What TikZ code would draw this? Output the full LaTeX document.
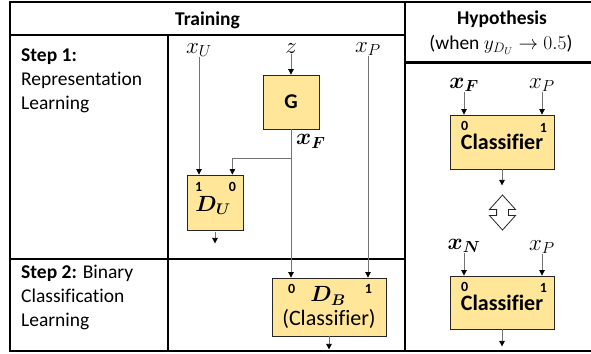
\RequirePackage{fix-cm}
\documentclass[tikz,border=0pt]{standalone}
\usepackage{amsmath,bm}
\usepackage{fontspec}
\setmainfont{Carlito}[Ligatures=CommonOff]
\usetikzlibrary{arrows.meta, positioning, shapes.arrows}
\definecolor{boxgold}{RGB}{255,230,153}
\definecolor{wiregray}{RGB}{115,115,115}
\tikzstyle{rule} = [line width=2.6pt, draw=black]
\tikzstyle{netbox} = [rectangle, fill=boxgold, draw=black!85, line width=0.8pt,
inner sep=0pt, align=center]
\tikzstyle{arrow} = [-{Triangle[length=5.5pt,width=5.5pt,color=black]},
line width=0.7pt, draw=wiregray]
\tikzstyle{heading} = [font=\fontsize{19.5}{24}\selectfont\bfseries, inner sep=0pt]
\tikzstyle{steptext} = [font=\fontsize{19.5}{24}\selectfont, align=left,
inner sep=0pt, anchor=north west]
\tikzstyle{port} = [font=\fontsize{14}{14}\selectfont\bfseries, inner sep=0pt]
\tikzstyle{sym} = [font=\fontsize{23}{23}\selectfont, inner sep=0pt]
\tikzstyle{boxtext} = [font=\fontsize{22}{24}\selectfont]

\begin{document}
\begin{tikzpicture}[x=1pt, y=-1pt]
    \useasboundingbox (0,0) rectangle (591,353);
    % table
    \draw[rule] (591,2) -- (10,2) -- (10,351) -- (591,351);
    \draw[rule] (405,2) -- (405,351);
    \draw[rule] (10,35) -- (405,35);
    \draw[rule] (405,62.5) -- (591,62.5);
    \draw[rule] (168,35) -- (168,351);
    \draw[rule] (10,259) -- (405,259);

    \node (train) [heading, anchor=base] at (207.5,25.5) {Training};
    \node (hyp) [heading, anchor=base] at (502,25) {Hypothesis};
    \node (hypcond) [font=\fontsize{19.5}{24}\selectfont, inner sep=0pt, anchor=base]
        at (501,50) {(when $y_{D_U}\rightarrow 0.5$)};

    \node (step1) [steptext] at (21,49) {\textbf{Step 1:}\\Representation\\Learning};
    \node (step2) [steptext] at (21,265) {\textbf{Step 2:} Binary\\Classification\\Learning};

    % training networks
    \node (gen) [netbox, minimum width=56pt, minimum height=54pt,
        font=\fontsize{21}{21}\selectfont\bfseries] at (291,102) {G};
    \node (du) [netbox, minimum width=56pt, minimum height=55pt] at (215,202.5) {};
    \node (db) [netbox, minimum width=114pt, minimum height=58pt] at (329,307) {};
    \node (dulab) [sym, font=\fontsize{22}{22}\selectfont] at ([shift={(-2,3)}]du.center) {$\bm{D_U}$};
    \node (du1) [port] at ([shift={(12,12)}]du.north west) {1};
    \node (du0) [port] at ([shift={(-11,12)}]du.north east) {0};
    \node (dblab) [sym, font=\fontsize{22}{22}\selectfont] at ([shift={(-1,-11)}]db.center) {$\bm{D_B}$};
    \node (dbcls) [boxtext, inner sep=0pt] at ([shift={(0,12)}]db.center) {(Classifier)};
    \node (db0) [port] at ([shift={(20,11)}]db.north west) {0};
    \node (db1) [port] at ([shift={(-18,11)}]db.north east) {1};

    \node (xu) [sym] at (199,50) {$x_U$};
    \node (zin) [sym] at (291,49) {$z$};
    \node (xp) [sym] at (368,49) {$x_P$};
    \node (xf) [sym, below right=5pt and 5pt of gen.south] {$\bm{x_F}$};
    \coordinate (split) at (gen.south |- 0,158);
    \coordinate (duout) at ([yshift=-13pt]du.south);
    \coordinate (dbout) at ([yshift=-13pt]db.south);

    \draw[arrow] (zin) -- (gen);
    \draw[arrow] (xu) -- (xu |- du.north);
    \draw[arrow] (xp) -- (xp |- db.north);
    \draw[arrow] (gen.south) -- (gen.south |- db.north);
    \draw[arrow] (split) -| (du0 |- du.north);
    \draw[arrow] ([yshift=-2pt]du.south) -- (duout);
    \draw[arrow] (db.south) -- (dbout);

    % hypothesis
    \node (clsa) [netbox, boxtext, font=\fontsize{22}{24}\selectfont\bfseries,
        minimum width=104pt, minimum height=54pt] at (502,142) {Classifier};
    \node (clsb) [netbox, boxtext, font=\fontsize{22}{24}\selectfont\bfseries,
        minimum width=104pt, minimum height=53pt] at (502,302.5) {Classifier};
    \node (clsa0) [port] at ([shift={(15,11)}]clsa.north west) {0};
    \node (clsa1) [port] at ([shift={(-11,13)}]clsa.north east) {1};
    \node (clsb0) [port] at ([shift={(15,11)}]clsb.north west) {0};
    \node (clsb1) [port] at ([shift={(-11,12)}]clsb.north east) {1};

    \node (hxf) [sym] at (464,85) {$\bm{x_F}$};
    \node (hxp) [sym] at (542,85) {$x_P$};
    \node (hxn) [sym] at (464,246) {$\bm{x_N}$};
    \node (hxq) [sym] at (542,247) {$x_P$};
    \node (swap) [double arrow, draw=black!85, fill=white, line width=0.8pt,
        rotate=90, minimum height=35pt, minimum width=23pt,
        inner xsep=0pt, inner ysep=5.5pt, double arrow tip angle=84] at (502.5,212.5) {};
    \coordinate (clsaout) at ([yshift=-16pt]clsa.south);
    \coordinate (clsbout) at ([yshift=-17pt]clsb.south);

    \draw[arrow] (hxf) -- (hxf |- clsa.north);
    \draw[arrow] (hxp) -- (hxp |- clsa.north);
    \draw[arrow] (hxn) -- (hxn |- clsb.north);
    \draw[arrow] (hxq) -- (hxq |- clsb.north);
    \draw[arrow] (clsa.south) -- (clsaout);
    \draw[arrow] (clsb.south) -- (clsbout);
\end{tikzpicture}
\end{document}
